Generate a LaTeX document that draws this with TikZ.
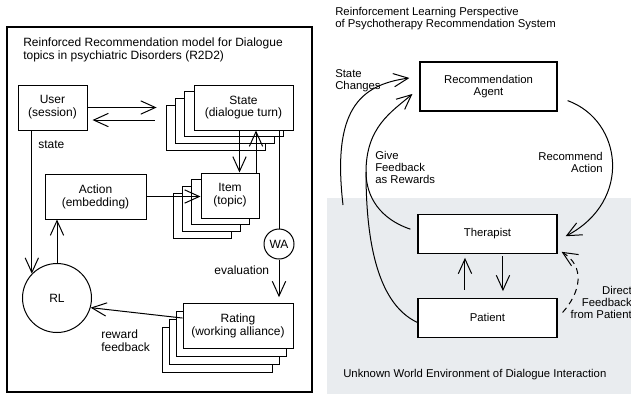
\documentclass[tikz,border=0pt]{standalone}
\usepackage{fontspec}
\setmainfont{Liberation Sans}
\usepackage{xcolor}
\usetikzlibrary{arrows.meta, positioning}

\definecolor{envgray}{HTML}{E9ECEF}

\begin{document}
\begin{tikzpicture}[
    x=0.75pt, y=-0.75pt,
    node distance=33pt,
    block/.style={rectangle, draw, fill=white, line width=0.75pt, minimum height=33.75pt, inner sep=1pt, align=center, font=\fontsize{9}{9.6}\selectfont},
    agent/.style={rectangle, draw, fill=white, line width=0.9pt, minimum width=104.25pt, minimum height=29.25pt, align=center, font=\fontsize{8.5}{9}\selectfont},
    hub/.style={circle, draw, fill=white, line width=0.75pt, inner sep=0pt, font=\fontsize{9}{9.6}\selectfont},
    note/.style={inner sep=0pt, align=left, font=\fontsize{9}{9.6}\selectfont},
    rnote/.style={inner sep=0pt, align=left, font=\fontsize{8.5}{9}\selectfont},
    arrow/.style={-{Straight Barb[length=11pt, width=10pt]}, line width=0.75pt},
    curve/.style={line width=0.75pt}
    ]

    \useasboundingbox (0,0) rectangle (631,394);

    % Left panel: R2D2 model
    \draw[line width=0.9pt] (7,27) rectangle (312,392);
    \node (r2d2) [note, anchor=north west] at (23,38) {Reinforced Recommendation model for Dialogue\\topics in psychiatric Disorders (R2D2)};

    % User node
    \node (user) [block, minimum width=51.75pt] at (52.5,107.5) {User\\(session)};

    % State stack
    \node (state3) [block, minimum width=74.25pt] at (215.6,127.6) {};
    \node (state2) [block, minimum width=74.25pt] at ([shift={(9.3,-6.7)}]state3) {};
    \node (state1) [block, minimum width=74.25pt] at ([shift={(9.3,-6.7)}]state2) {};
    \node (state) [block, minimum width=74.25pt] at ([shift={(9.3,-6.7)}]state1) {State\\(dialogue turn)};

    % Action node
    \node (action) [block, minimum width=75.75pt] at (95.5,196.5) {Action\\(embedding)};

    % Item stack
    \node (item3) [block, minimum width=43.5pt] at (202.1,215.6) {};
    \node (item2) [block, minimum width=43.5pt] at ([shift={(9.3,-6.7)}]item3) {};
    \node (item1) [block, minimum width=43.5pt] at ([shift={(9.3,-6.7)}]item2) {};
    \node (item) [block, minimum width=43.5pt] at ([shift={(9.3,-6.7)}]item1) {Item\\(topic)};

    % RL and WA circles
    \node (rl) [hub, minimum size=51.75pt] at (57,298) {RL};
    \node (wa) [hub, minimum size=22.5pt] at (279,244) {WA};

    % Rating stack
    \node (rating3) [block, minimum width=82.5pt] at (217.9,349.5) {};
    \node (rating2) [block, minimum width=82.5pt] at ([shift={(6.7,-8)}]rating3) {};
    \node (rating1) [block, minimum width=82.5pt] at ([shift={(6.7,-8)}]rating2) {};
    \node (rating) [block, minimum width=82.5pt] at ([shift={(6.7,-8)}]rating1) {Rating\\(working alliance)};

    % Arrows of the left panel
    \draw[arrow, shorten >=6.75pt] (user.east) -- (user.east -| state3.west);
    \draw[arrow, shorten <=8pt, shorten >=3.75pt] ([yshift=-9.4pt]user.east -| state3.west) -- ([yshift=-9.4pt]user.east);
    \draw[arrow] (user.south -| rl.136) -- (rl.136) node[note, pos=0.1, right=4.5pt] (statelbl) {state};
    \draw[arrow] (rl.north) -- (rl.north |- action.south);
    \draw[arrow] (action.east) -- (action.east -| item.west);
    \draw[arrow] ([xshift=-3pt]state.south) -- ([xshift=-3pt]state.south |- item.north);
    \draw[arrow] ([xshift=19.5pt]item.north) -- ([xshift=19.5pt]item.north |- state.south);
    \draw[curve] (state.south -| wa.north) -- (wa.north);
    \draw[arrow, shorten >=4pt] (wa.south) -- (wa.south |- rating.north) node[note, pos=0.25, left=7pt] (evallbl) {evaluation};
    \draw[arrow] ([yshift=5.6pt]rating.west) -- (rl.-16);
    \node (rewardlbl) [note, anchor=north west] at (101,330) {reward\\feedback};

    % Right panel: environment
    \fill[envgray] (327,198) rectangle (631,394);
    \node (rltitle) [rnote, anchor=north west] at (335,7.5) {Reinforcement Learning Perspective\\of Psychotherapy Recommendation System};

    % Agent, therapist and patient
    \node (recagent) [agent, minimum width=102.75pt, minimum height=36.75pt] at (488.5,86.5) {Recommendation\\Agent};
    \node (therapist) [agent, below=76.5pt of recagent, xshift=-0.75pt] {Therapist};
    \node (patient) [agent, below=33pt of therapist] {Patient};
    \node (envlbl) [rnote, anchor=west] at (343,375) {Unknown World Environment of Dialogue Interaction};

    % Recommend action
    \draw[arrow] ([shift={(7.5pt,8.25pt)}]recagent.south east) .. controls +(55,20) and +(67,-35) .. ([shift={(6pt,-1.9pt)}]therapist.east);
    \node (recommendlbl) [rnote, align=right, anchor=north east] at (603,152.5) {Recommend\\Action};

    % Feedback as rewards
    \coordinate (merge) at (366,172);
    \draw[curve] ([shift={(-5.25pt,3.4pt)}]therapist.west) .. controls +(-30,-10) and +(0,25) .. (merge);
    \draw[curve] ([yshift=-3.4pt]patient.west) .. controls +(-43,-20) and +(0,60) .. (merge);
    \draw[arrow] (merge) .. controls +(0,-45) and +(-21,18) .. ([shift={(-5.25pt,-5.6pt)}]recagent.west);
    \node (feedbacklbl) [rnote, anchor=north west] at (375,151.5) {Give\\Feedback\\as Rewards};

    % State changes
    \coordinate (changes) at (343,205);
    \draw[arrow] (changes) .. controls +(-11,-95) and +(-50,7) .. ([shift={(-7.5pt,6.4pt)}]recagent.west);
    \node (changeslbl) [rnote, anchor=north west] at (335,69.5) {State\\Changes};

    % Therapist and patient
    \draw[arrow, shorten <=6pt, shorten >=3pt] ([xshift=-16.9pt]patient.north) -- ([xshift=-16.9pt]therapist.south);
    \draw[arrow, shorten <=2pt, shorten >=5pt] ([xshift=11.6pt]therapist.south) -- ([xshift=11.6pt]patient.north);

    % Direct feedback
    \draw[arrow, dash pattern=on 4.5pt off 3.5pt] ([shift={(3.75pt,4.1pt)}]patient.east) .. controls +(18,-20) and +(24,15) .. ([shift={(3pt,1.5pt)}]therapist.south east);
    \node (directlbl) [rnote, align=right, anchor=north east] at (632,286.5) {Direct\\Feedback\\from Patient};
\end{tikzpicture}
\end{document}
